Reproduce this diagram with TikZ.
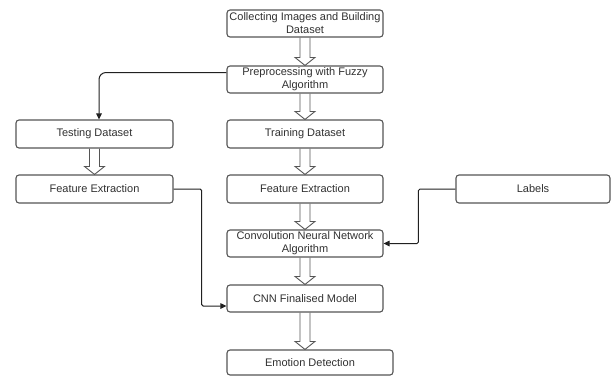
\documentclass[tikz,border=0pt]{standalone}
\usepackage{fontspec}
\setmainfont{Liberation Sans}
\usetikzlibrary{arrows.meta,calc}
\definecolor{boxgray}{HTML}{555555}
\definecolor{txtgray}{HTML}{303030}
\definecolor{conncol}{HTML}{202020}
\tikzset{
  box/.style={draw=boxgray, line width=1.1pt, rounded corners=3pt, rectangle,
    minimum width=156pt, minimum height=27pt, inner sep=0pt, align=center,
    text=txtgray, font=\fontsize{11pt}{13pt}\selectfont},
  hollow/.style={draw=boxgray, line width=0.9pt, line join=miter},
  conn/.style={draw=conncol, line width=1pt, -{Triangle[length=6pt,width=5.5pt]}}
}
\newcommand\hollowarrow[2]{%
  \draw[hollow] let \p1=(#1.south), \p2=(#2.north) in
    (\x1-5pt,\y1) -- (\x1-5pt,\y2+8pt) -- (\x1-10pt,\y2+8pt) -- (\x1,\y2)
    -- (\x1+10pt,\y2+8pt) -- (\x1+5pt,\y2+8pt) -- (\x1+5pt,\y1);}
\begin{document}
\begin{tikzpicture}[x=1pt,y=-1pt]
\useasboundingbox (0,0) rectangle (611,376);
\node[box] (b1) at (305,23.5) {Collecting Images and Building\\Dataset};
\node[box] (b2) at (305,79.5) {Preprocessing with Fuzzy\\Algorithm};
\node[box, minimum width=157pt, minimum height=28pt] (test) at (94.5,134) {Testing Dataset};
\node[box, minimum height=28pt] (train) at (305,134) {Training Dataset};
\node[box, minimum width=157pt, minimum height=28pt] (fel) at (94.5,189) {Feature Extraction};
\node[box, minimum height=28pt] (fec) at (305,189) {Feature Extraction};
\node[box, minimum width=154pt, minimum height=28pt] (labels) at (533,189) {Labels};
\node[box] (cnn) at (305,243.5) {Convolution Neural Network\\Algorithm};
\node[box] (final) at (305,298.5) {CNN Finalised Model};
\node[box, minimum width=166pt, minimum height=25pt] (emo) at (310,362.5) {Emotion Detection};

\hollowarrow{b1}{b2}
\hollowarrow{b2}{train}
\hollowarrow{test}{fel}
\hollowarrow{train}{fec}
\hollowarrow{fec}{cnn}
\hollowarrow{cnn}{final}
\hollowarrow{final}{emo}

\draw[conn, rounded corners=7pt] ([yshift=7pt]b2.west) -| ([xshift=4.5pt]test.north);
\draw[conn, rounded corners=1.5pt] (fel.east) -- ++(28,0) |- ([yshift=-7.5pt]final.west);
\draw[conn, rounded corners=1.5pt] (labels.west) -- ++(-37,0) |- (cnn.east);
\end{tikzpicture}
\end{document}
